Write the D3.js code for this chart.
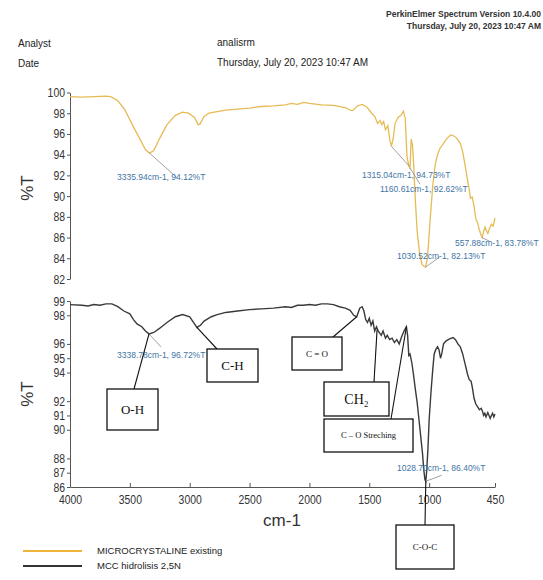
<!DOCTYPE html>
<html>
<head>
<meta charset="utf-8">
<script src="https://cdn.jsdelivr.net/npm/d3@7"></script>
<style>
  body { margin: 0; background: #fff; }
  svg { display: block; }
  .tick text { font-family: "Liberation Sans", Arial, sans-serif; fill: #333; }
</style>
</head>
<body>
<svg id="chart" width="543" height="580"></svg>
<script>
// wavenumber (cm-1) and %T
var topWn = [4000,3900,3800,3700,3660,3600,3540,3480,3420,3370,3336,3300,3250,3190,3120,3060,3010,2960,2930,2915,2880,2840,2700,2500,2400,2300,2200,2150,2100,2050,2000,1900,1800,1700,1660,1640,1600,1560,1520,1480,1455,1430,1410,1395,1380,1365,1345,1330,1315,1300,1285,1260,1235,1215,1200,1185,1170,1160,1150,1140,1130,1115,1100,1080,1060,1040,1030,1015,1005,990,970,950,930,910,880,850,820,800,770,740,720,700,680,665,655,640,625,610,595,580,565,558,545,533,520,510,495,480,465,450];
var topT = [99.6,99.55,99.6,99.65,99.6,99.2,98.3,96.9,95.6,94.5,94.15,94.4,95.6,96.9,97.8,98.1,98.0,97.6,96.9,96.95,97.7,98.0,98.3,98.5,98.65,98.7,98.8,98.95,98.85,99.05,98.95,98.8,98.75,98.55,98.3,98.25,98.7,98.85,98.6,98.0,97.7,97.0,97.3,96.9,97.2,96.4,96.8,95.5,94.8,95.6,97.0,97.6,97.8,98.2,97.5,93.8,92.9,92.7,95.5,95.0,93.2,89.5,86.6,84.5,83.4,83.2,83.15,84.0,85.5,88.0,91.0,93.0,94.0,94.6,95.1,95.6,95.9,95.85,95.6,95.1,94.3,93.0,91.6,90.6,89.8,89.9,89.0,87.8,87.4,86.7,86.2,86.0,86.6,87.0,86.6,86.4,86.9,87.3,87.1,87.9];

var botWn = [4000,3900,3850,3800,3750,3700,3650,3600,3550,3500,3470,3440,3400,3370,3340,3300,3250,3190,3120,3060,3000,2960,2940,2910,2880,2820,2770,2700,2600,2500,2400,2300,2200,2150,2100,2050,2000,1950,1900,1850,1800,1750,1700,1660,1630,1605,1580,1560,1545,1530,1515,1500,1485,1470,1455,1440,1425,1400,1385,1365,1350,1330,1310,1290,1270,1250,1230,1210,1190,1180,1170,1160,1145,1130,1115,1100,1085,1070,1055,1045,1035,1028,1020,1010,1000,985,970,958,945,930,918,905,895,880,860,830,800,780,760,740,720,700,680,665,650,640,625,610,595,580,565,555,545,535,525,510,500,490,480,470,460,450];
var botT = [98.75,98.7,98.65,98.75,98.7,98.8,98.8,98.6,98.3,98.1,97.7,97.4,97.2,96.9,96.7,96.8,97.1,97.5,97.9,98.05,97.9,97.4,97.15,97.3,97.6,97.9,98.05,98.2,98.3,98.4,98.45,98.5,98.6,98.55,98.7,98.7,98.75,98.7,98.8,98.8,98.75,98.6,98.5,98.35,98.0,97.9,98.5,98.6,98.3,97.7,97.5,97.8,97.3,97.6,96.9,97.2,96.9,96.6,96.9,96.4,96.6,96.3,96.4,96.1,96.3,96.0,96.5,96.9,97.2,96.6,95.2,95.3,94.7,93.8,92.8,91.9,90.7,89.5,88.3,87.2,86.5,86.4,87.2,88.7,90.7,92.6,94.2,95.3,95.6,95.8,95.6,95.0,95.3,96.0,96.2,96.35,96.45,96.3,96.0,95.8,95.3,94.6,93.9,93.5,93.4,93.0,92.2,91.8,91.6,91.4,91.5,91.3,91.0,91.15,90.9,91.2,91.0,90.8,91.0,91.15,90.9,91.1];

var topTicks = [100,98,96,94,92,90,88,86,84,82];
var botTicks = [99,98,96,95,94,92,91,90,88,87,86];
var xTicks = [4000,3500,3000,2500,2000,1500,1000,450];

// peak labels
var peakSeries = ["top","top","top","top","top","bot"];
var peakWn = [3336, 1315, 1160, 1030, 558, 1028];
var peakT = [94.15, 94.8, 92.7, 83.15, 86.0, 86.4];
var peakText = ["3335.94cm-1, 94.12%T","1315.04cm-1, 94.73%T","1160.61cm-1, 92.62%T","1030.52cm-1, 82.13%T","557.88cm-1, 83.78%T","1028.70cm-1, 86.40%T"];
var ohText = "3338.78cm-1, 96.72%T";

// functional group boxes on the hydrolysed curve
var groupText = ["O-H","C-H","C = O","CH\u2082","C \u2013 O Streching","C-O-C"];
var groupWn = [3340, 2940, 1605, 1435, 1190, 1028];
var groupT = [96.7, 97.15, 97.9, 97.0, 97.2, 86.4];

var svg = d3.select("#chart");
svg.append("rect").attr("width", 543).attr("height", 580).attr("fill", "#fff");

var x = d3.scaleLinear().domain([4000, 450]).range([70, 495]);
var yTop = d3.scaleLinear().domain([82, 100]).range([279, 92.5]);
var yBot = d3.scaleLinear().domain([86, 99]).range([487, 301]);

var topData = topWn.map(function(d, i) { return [d, topT[i]]; });
var botData = botWn.map(function(d, i) { return [d, botT[i]]; });

// header
var hdr = svg.append("g").attr("font-family", "Liberation Sans, Arial, sans-serif").attr("fill", "#222");
hdr.append("text").attr("x", 541).attr("y", 17).attr("text-anchor", "end").attr("font-size", 8.5)
  .attr("font-weight", "bold").attr("fill", "#333").text("PerkinElmer Spectrum Version 10.4.00");
hdr.append("text").attr("x", 541).attr("y", 29).attr("text-anchor", "end").attr("font-size", 8.5)
  .attr("font-weight", "bold").attr("fill", "#333").text("Thursday, July 20, 2023 10:47 AM");
hdr.append("text").attr("x", 18).attr("y", 47).attr("font-size", 10).text("Analyst");
hdr.append("text").attr("x", 18).attr("y", 67).attr("font-size", 10).text("Date");
hdr.append("text").attr("x", 217).attr("y", 46).attr("font-size", 10).text("analisrm");
hdr.append("text").attr("x", 217).attr("y", 66).attr("font-size", 10).text("Thursday, July 20, 2023 10:47 AM");

// axes -- the original uses a narrow face, squeeze the glyphs
function styleAxis(g) {
  g.selectAll("path, line").attr("stroke", "#555");
  g.selectAll("text").attr("font-size", 12.5)
    .attr("textLength", function() { return this.textContent.length * 5.8; })
    .attr("lengthAdjust", "spacingAndGlyphs");
}
svg.append("g").attr("transform", "translate(70,0)")
  .call(d3.axisLeft(yTop).tickValues(topTicks).tickSize(3).tickSizeOuter(0).tickPadding(2))
  .call(styleAxis);
svg.append("g").attr("transform", "translate(70,0)")
  .call(d3.axisLeft(yBot).tickValues(botTicks).tickSize(3).tickSizeOuter(0).tickPadding(2))
  .call(styleAxis);
svg.append("g").attr("transform", "translate(0,487)")
  .call(d3.axisBottom(x).tickValues(xTicks).tickFormat(d3.format("d")).tickSize(-4).tickSizeOuter(0).tickPadding(8))
  .call(styleAxis);

var axisLab = svg.append("g").attr("font-family", "Liberation Sans, Arial, sans-serif").attr("fill", "#333").attr("font-size", 17);
axisLab.append("text").attr("transform", "translate(33,188) rotate(-90)").attr("text-anchor", "middle").text("%T");
axisLab.append("text").attr("transform", "translate(33,394) rotate(-90)").attr("text-anchor", "middle").text("%T");
axisLab.append("text").attr("x", 282).attr("y", 526).attr("text-anchor", "middle").text("cm-1");

// curves
var lineTop = d3.line().x(function(d) { return x(d[0]); }).y(function(d) { return yTop(d[1]); });
var lineBot = d3.line().x(function(d) { return x(d[0]); }).y(function(d) { return yBot(d[1]); });

svg.append("path").datum(topData).attr("d", lineTop)
  .attr("fill", "none").attr("stroke", "#e6bb55").attr("stroke-width", 1.3);
svg.append("path").datum(botData).attr("d", lineBot)
  .attr("fill", "none").attr("stroke", "#3a3a3a").attr("stroke-width", 1.4);

// peak labels (blue): leader dx, dy, text x, text y
var labOff = [[28, 25, 117, 180], [18, 20, 362, 178], [10, 16, 380, 192], [14, -10, 397, 259], [8, 4, 455, 246], [16, -6, 397, 471]];
var peaks = svg.append("g").attr("font-family", "Liberation Sans, Arial, sans-serif").attr("font-size", 8.5).attr("fill", "#3f75a5");
peakText.forEach(function(t, i) {
  var yS = peakSeries[i] === "top" ? yTop : yBot;
  var px = x(peakWn[i]), py = yS(peakT[i]);
  peaks.append("line").attr("x1", px).attr("y1", py)
    .attr("x2", px + labOff[i][0]).attr("y2", py + labOff[i][1])
    .attr("stroke", "#8a8a8a").attr("stroke-width", 0.8);
  peaks.append("text").attr("x", labOff[i][2]).attr("y", labOff[i][3]).text(t);
});
peaks.append("line").attr("x1", x(3340)).attr("y1", yBot(96.7)).attr("x2", x(3340) + 12).attr("y2", yBot(96.7) + 13)
  .attr("stroke", "#8a8a8a").attr("stroke-width", 0.8);
peaks.append("text").attr("x", 117).attr("y", 358).text(ohText);

// group boxes: x, y, w, h, font size, leader end x, leader end y
var boxes = [
  [107, 389, 51, 41, 13, 134, 389],
  [207, 349, 51, 33, 13, 217, 349],
  [292, 337, 50, 33, 9, 333, 337],
  [324, 382, 65, 34, 14, 374, 382],
  [324, 419, 89, 33, 8.5, 391, 419],
  [396, 525, 58, 44, 9, 425, 525]
];
var grp = svg.append("g").attr("font-family", "Liberation Serif, Times New Roman, serif").attr("fill", "#111");
boxes.forEach(function(b, i) {
  grp.append("line").attr("x1", x(groupWn[i])).attr("y1", yBot(groupT[i]))
    .attr("x2", b[5]).attr("y2", b[6]).attr("stroke", "#111").attr("stroke-width", 1.1);
  grp.append("rect").attr("x", b[0]).attr("y", b[1]).attr("width", b[2]).attr("height", b[3])
    .attr("fill", "#fff").attr("stroke", "#111").attr("stroke-width", 1.3);
  grp.append("text").attr("x", b[0] + b[2] / 2).attr("y", b[1] + b[3] / 2)
    .attr("dy", "0.35em").attr("text-anchor", "middle").attr("font-size", b[4]).text(groupText[i]);
});

// legend
var legNames = ["MICROCRYSTALINE existing", "MCC hidrolisis 2,5N"];
var legColors = ["#f0b43c", "#333"];
var leg = svg.append("g").attr("font-family", "Liberation Sans, Arial, sans-serif").attr("font-size", 9.5).attr("fill", "#222");
legNames.forEach(function(n, i) {
  var yy = 551 + i * 15;
  leg.append("line").attr("x1", 23).attr("x2", 82).attr("y1", yy).attr("y2", yy)
    .attr("stroke", legColors[i]).attr("stroke-width", 2);
  leg.append("text").attr("x", 97).attr("y", yy).attr("dy", "0.35em").text(n);
});
</script>
</body>
</html>
